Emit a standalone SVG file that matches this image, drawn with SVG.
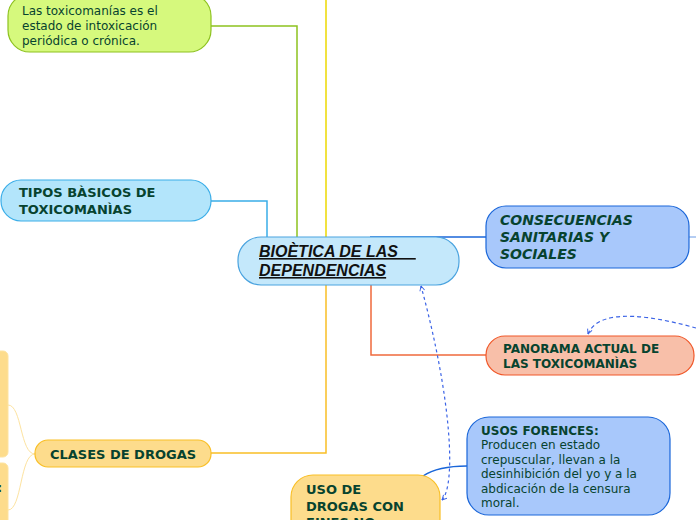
<svg xmlns="http://www.w3.org/2000/svg" width="696" height="520" viewBox="0 0 696 520">
<style>
.t{font-family:"DejaVu Sans",Verdana,sans-serif;fill:#07432f}
.b{font-weight:bold;font-size:13px}
.n{font-size:12px}
.c{fill:none;stroke-width:1.5}
</style>
<defs>
<marker id="ah" viewBox="0 0 10 10" refX="9" refY="5" markerWidth="5" markerHeight="5" orient="auto-start-reverse">
<path d="M1 1 L9 5 L1 9" fill="none" stroke="#3b63e6" stroke-width="1.6"/>
</marker>
</defs>
<g id="connectors">
<path class="c" d="M211 26 H297 V237" stroke="#8dc21f"/>
<path class="c" d="M326 0 V237" stroke="#ecd900"/>
<path class="c" d="M211 201 H267 V237" stroke="#3aade8"/>
<path class="c" d="M370 237 H486" stroke="#1a66d9"/>
<path fill="none" stroke="#6a9be6" stroke-width="1" d="M689 237 H696"/>
<path class="c" d="M371 285 V355 H486" stroke="#f06a3c"/>
<path class="c" d="M326 285 V453 H211" stroke="#f9bf26"/>
<path class="c" d="M467 466 C447 466 432 470 423 476" stroke="#1a66d9"/>
<path fill="none" stroke="#fde3a0" stroke-width="1" d="M35 454 C20 454 22 405 8 405 M35 454 C20 454 22 510 8 510"/>
<path fill="none" stroke="#3b63e6" stroke-width="1.2" stroke-dasharray="4 3" d="M696 328 C660 318 600 305 588 334" marker-end="url(#ah)"/>
<path fill="none" stroke="#3b63e6" stroke-width="1.2" stroke-dasharray="3 3" d="M442 500 C456 485 452 400 421 286" marker-start="url(#ah)" marker-end="url(#ah)"/>
</g>
<g id="n-def">
<rect x="8" y="-6" width="203" height="58" rx="22" fill="#d6f97d" stroke="#8dc21f" stroke-width="1.2"/>
<text class="t n"><tspan x="22" y="15">Las toxicomanías es el</tspan><tspan x="22" y="30">estado de intoxicación</tspan><tspan x="22" y="45">periódica o crónica.</tspan></text>
</g>
<g id="n-tipos">
<rect x="1" y="180" width="210" height="41" rx="20" fill="#b3e5fb" stroke="#3aade8" stroke-width="1.2"/>
<text class="t b"><tspan x="19" y="197">TIPOS BÀSICOS DE</tspan><tspan x="19" y="214">TOXICOMANÌAS</tspan></text>
</g>
<g id="n-central">
<rect x="238" y="237" width="221" height="48" rx="23" fill="#c4e8fb" stroke="#4aa3df" stroke-width="1.2"/>
<text font-family="'Liberation Sans',Arial,sans-serif" font-weight="bold" font-style="italic" font-size="16" text-decoration="underline" fill="#111"><tspan x="259" y="257" xml:space="preserve">BIOÈTICA DE LAS    </tspan><tspan x="259" y="276">DEPENDENCIAS</tspan></text>
</g>
<g id="n-consec">
<rect x="486" y="206" width="203" height="62" rx="20" fill="#a8c8fb" stroke="#1a66d9" stroke-width="1.2"/>
<text class="t" font-weight="bold" font-style="italic" font-size="14"><tspan x="500" y="225">CONSECUENCIAS</tspan><tspan x="500" y="242">SANITARIAS Y</tspan><tspan x="500" y="259">SOCIALES</tspan></text>
</g>
<g id="n-panorama">
<rect x="486" y="336" width="208" height="39" rx="19" fill="#f8bfa9" stroke="#f0582a" stroke-width="1.2"/>
<text class="t" font-weight="bold" font-size="12"><tspan x="503" y="353">PANORAMA ACTUAL DE</tspan><tspan x="503" y="368">LAS TOXICOMANÌAS</tspan></text>
</g>
<g id="n-forences">
<rect x="467" y="417" width="203" height="98" rx="22" fill="#a8c8fb" stroke="#1a66d9" stroke-width="1.2"/>
<text class="t n"><tspan x="481" y="435" font-weight="bold">USOS FORENCES:</tspan><tspan x="481" y="449">Producen en estado</tspan><tspan x="481" y="464">crepuscular, llevan a la</tspan><tspan x="481" y="478">desinhibición del yo y a la</tspan><tspan x="481" y="493">abdicación de la censura</tspan><tspan x="481" y="507">moral.</tspan></text>
</g>
<g id="n-uso">
<rect x="291" y="475" width="149" height="70" rx="22" fill="#fddc8c" stroke="#f9bf26" stroke-width="1.2"/>
<text class="t" font-weight="bold" font-size="13"><tspan x="306" y="494">USO DE</tspan><tspan x="306" y="511">DROGAS CON</tspan><tspan x="306" y="527">FINES NO</tspan></text>
</g>
<g id="n-clases">
<rect x="35" y="440" width="176" height="27" rx="13" fill="#fddc8c" stroke="#f9bf26" stroke-width="1.2"/>
<text class="t b" x="123" y="459" text-anchor="middle">CLASES DE DROGAS</text>
</g>
<g id="n-left1">
<rect x="-20" y="351" width="28" height="106" rx="5" fill="#fddc8c" stroke="#fde3a0"/>
</g>
<g id="n-left2">
<rect x="-20" y="463" width="28" height="70" rx="5" fill="#fddc8c" stroke="#fde3a0"/>
<text class="t" font-weight="bold" font-size="13" x="-3" y="492" fill="#111">:</text>
</g>
</svg>
